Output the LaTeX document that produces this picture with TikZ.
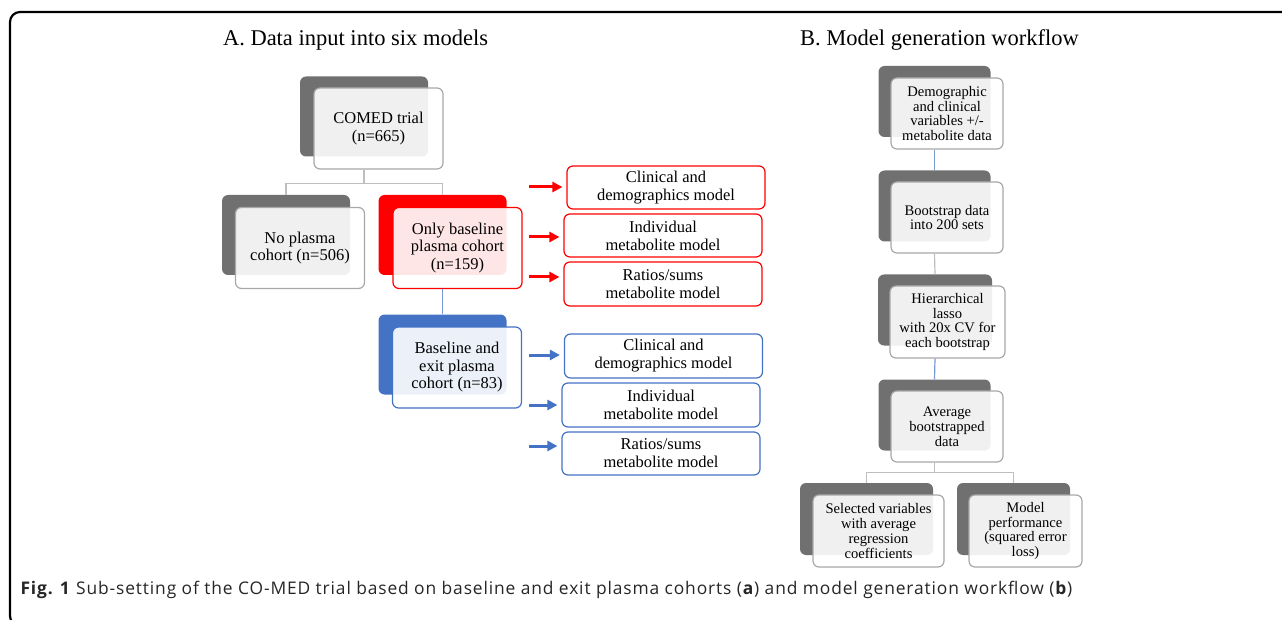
\documentclass[tikz,border=0pt]{standalone}
\usepackage{fontspec}
\setmainfont{Liberation Serif}
\newfontfamily\capfont[LetterSpace=5]{Open Sans}
\usetikzlibrary{arrows.meta}
\definecolor{shadegray}{RGB}{112,112,112}
\definecolor{edgegray}{RGB}{168,168,168}
\definecolor{linkgray}{RGB}{190,190,190}
\definecolor{accblue}{RGB}{68,114,196}
\definecolor{linkblue}{RGB}{120,152,212}

\begin{document}
\begin{tikzpicture}[
        x=1pt, y=-1pt,
        frame/.style={line width=2.2pt, rounded corners=10pt},
        back/.style={fill=shadegray, rounded corners=6pt, inner sep=0pt,
            minimum width=128pt, minimum height=80pt},
        front/.style={draw=edgegray, line width=1.2pt, fill=white, fill opacity=.9,
            text opacity=1, rounded corners=6pt, inner sep=0pt, align=center,
            minimum width=129pt, minimum height=81pt,
            font=\fontsize{16.5}{17.5}\selectfont},
        small/.style={minimum width=112pt, minimum height=71pt,
            font=\fontsize{14.6}{14.8}\selectfont},
        model/.style={draw, line width=1.2pt, fill=white, rounded corners=6pt,
            inner sep=0pt, align=center, minimum width=198pt, minimum height=43pt,
            font=\fontsize{16.5}{18}\selectfont},
        link/.style={draw=linkgray, line width=1.2pt},
        bluelink/.style={draw=linkblue, line width=1.2pt},
        feed/.style={line width=3pt, -{Triangle[length=10pt, width=10pt]}, shorten >=4pt},
        title/.style={font=\fontsize{22.5}{24}\selectfont},
    ]
    \useasboundingbox (0,0) rectangle (1282,620);
    \draw[frame] (40,626) -- (10,626) -- (10,12) -- (1300,12);

    \node[title] (titleA) at (355.5,40) {A. Data input into six models};
    \node[title] (titleB) at (939.5,40) {B. Model generation workflow};

    %% A: cohorts
    \node[back] (comedB) at (364,116.5) {};
    \node[front] (comed) at (378.5,128.5) {COMED trial\\(n=665)};
    \node[back] (noneB) at (286,235) {};
    \node[front] (none) at (300,248) {No plasma\\cohort (n=506)};
    \node[back, fill=red] (onlyB) at (442.5,235) {};
    \node[front, draw=red] (only) at (457.5,248) {Only baseline\\plasma cohort\\(n=159)};
    \node[back, fill=accblue] (bothB) at (442.5,354.5) {};
    \node[front, draw=accblue] (both) at (457,367.5) {Baseline and\\exit plasma\\cohort (n=83)};

    \draw[link] (comedB |- comed.south) -- ++(0,14) coordinate (comedJ) -| (noneB.north);
    \draw[link] (comedJ) -| (onlyB.north);
    \draw[bluelink] (onlyB |- only.south) -- (bothB.north);

    %% A: six models
    \node[model, draw=red] (redM1) at (666,187.5) {Clinical and\\demographics model};
    \node[model, draw=red] (redM2) at (663,235.5) {Individual\\metabolite model};
    \node[model, draw=red, minimum height=44pt] (redM3) at (663,284) {Ratios/sums\\metabolite model};
    \node[model, draw=accblue, minimum height=44pt] (blueM1) at (663.5,356) {Clinical and\\demographics model};
    \node[model, draw=accblue, minimum height=44pt] (blueM2) at (661,405) {Individual\\metabolite model};
    \node[model, draw=accblue] (blueM3) at (661,453.5) {Ratios/sums\\metabolite model};

    \coordinate (redA1) at (529,187);
    \coordinate (redA2) at (529,237);
    \coordinate (redA3) at (529,277);
    \coordinate (blueA1) at (529,355);
    \coordinate (blueA2) at (529,405);
    \coordinate (blueA3) at (529,446);
    \foreach \i in {1,2,3}{
        \draw[feed, red] (redA\i) -- (redA\i -| redM\i.west);
        \draw[feed, accblue] (blueA\i) -- (blueA\i -| blueM\i.west);
    }

    %% B: workflow
    \node[back, small] (demoB) at (934.5,101.5) {};
    \node[front, small] (demo) at (947,113.5) {Demographic\\and clinical\\variables +/-\\metabolite data};
    \node[back, small] (bootB) at (934.5,206) {};
    \node[front, small] (boot) at (947,217.5) {Bootstrap data\\into 200 sets};
    \node[back, small, minimum width=114pt] (lassoB) at (935,310) {};
    \node[front, small, minimum width=115pt, minimum height=72pt] (lasso) at (947.5,322) {Hierarchical\\lasso\\with 20x CV for\\each bootstrap};
    \node[back, small] (avgB) at (934.5,415) {};
    \node[front, small] (avg) at (947,426.5) {Average\\bootstrapped\\data};
    \node[back, small, minimum width=133pt, minimum height=72pt] (selB) at (866.5,519) {};
    \node[front, small, minimum width=131pt, minimum height=72pt] (sel) at (878.5,531) {Selected variables\\with average\\regression\\coefficients};
    \node[back, small, minimum width=113pt, minimum height=72pt] (perfB) at (1013.5,519) {};
    \node[front, small, minimum width=113pt, minimum height=72pt] (perf) at (1025.5,531) {Model\\performance\\(squared error\\loss)};

    \draw[bluelink] (demoB |- demo.south) -- (bootB.north);
    \draw[link] (bootB |- boot.south) -- (lassoB.north);
    \draw[bluelink] (lassoB |- lasso.south) -- (avgB.north);
    \draw[link] (avgB |- avg.south) -- ++(0,10) coordinate (avgJ) -| (selB.north);
    \draw[link] (avgJ) -| (perfB.north);

    \node[anchor=west, text=black!85, font=\capfont\fontsize{17.4}{19}\selectfont] (caption) at (17,590)
        {\textbf{Fig. 1} Sub-setting of the CO-MED trial based on baseline and exit plasma cohorts (\textbf{a}) and model generation workflow (\textbf{b})};
\end{tikzpicture}
\end{document}
